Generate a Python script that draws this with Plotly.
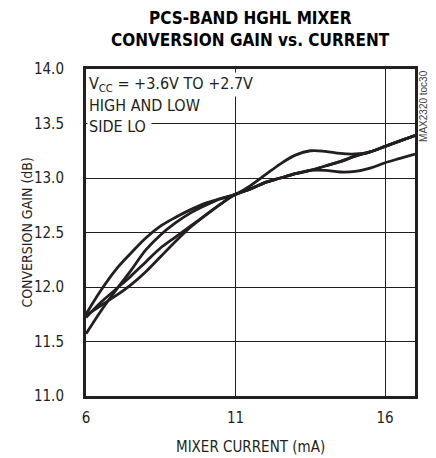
import plotly.graph_objects as go

# mixer current (mA)
current = [6, 6.5, 7, 7.5, 8, 8.5, 9, 9.5, 10, 10.5, 11, 11.5, 12, 12.5,
           13, 13.5, 14, 14.5, 15, 15.5, 16, 16.5, 17]

# conversion gain (dB), four supply / LO-side combinations
gain_a = [11.75, 11.97, 12.16, 12.31, 12.45, 12.56, 12.64, 12.71, 12.77, 12.81, 12.85,
          12.90, 12.96, 13.00, 13.04, 13.07, 13.11, 13.15, 13.20, 13.24, 13.29, 13.34, 13.39]
gain_b = [11.57, 11.78, 11.97, 12.15, 12.34, 12.48, 12.59, 12.68, 12.75, 12.81, 12.85,
          12.93, 13.03, 13.13, 13.21, 13.25, 13.245, 13.225, 13.22, 13.24, 13.29, 13.34, 13.39]
gain_c = [11.72, 11.86, 11.98, 12.10, 12.23, 12.36, 12.46, 12.56, 12.66, 12.76, 12.85,
          12.90, 12.96, 13.00, 13.04, 13.07, 13.11, 13.15, 13.20, 13.24, 13.29, 13.34, 13.39]
gain_d = [11.74, 11.83, 11.92, 12.02, 12.14, 12.28, 12.42, 12.55, 12.66, 12.76, 12.85,
          12.90, 12.96, 13.00, 13.04, 13.07, 13.07, 13.055, 13.06, 13.09, 13.14, 13.18, 13.22]

x_ticks = [6, 11, 16]
y_ticks = [11.0, 11.5, 12.0, 12.5, 13.0, 13.5, 14.0]

INK    = "#231f20"
NARROW = "DejaVu Sans Condensed, Liberation Sans Narrow, sans-serif"

fig = go.Figure()
for g in (gain_a, gain_b, gain_c, gain_d):
    fig.add_trace(go.Scatter(
        x=current, y=g, mode="lines", showlegend=False,
        line=dict(color=INK, width=2.8, shape="spline", smoothing=1.0),
    ))

axis_common = dict(
    showline=True, linecolor=INK, linewidth=3, mirror=True,
    showgrid=True, gridcolor=INK, gridwidth=1, automargin=False,
    zeroline=False, ticks="", tickfont=dict(family=NARROW, size=15, color=INK),
)
fig.update_xaxes(**axis_common, range=[6, 17], tickvals=x_ticks,
                 ticktext=[str(v) for v in x_ticks], ticklabelstandoff=6)
fig.update_yaxes(**axis_common, range=[11, 14], tickvals=y_ticks,
                 ticktext=[f"{v:.1f}" for v in y_ticks], ticklabelstandoff=16)

# axis titles placed by hand
fig.add_annotation(xref="paper", yref="paper", x=0.5, y=-0.156,
                   xanchor="center", yanchor="middle", showarrow=False,
                   text="MIXER CURRENT (mA)",
                   font=dict(family=NARROW, size=15, color=INK))
fig.add_annotation(xref="paper", yref="paper", x=-0.182, y=0.5,
                   xanchor="center", yanchor="middle", showarrow=False,
                   text="CONVERSION GAIN (dB)", textangle=-90,
                   font=dict(family=NARROW, size=14, color=INK))

# note, one box per line so the grid shows between them
note = ["V<sub>CC</sub> = +3.6V TO +2.7V", "HIGH AND LOW", "SIDE LO "]
for i, line in enumerate(note):
    fig.add_annotation(
        xref="paper", yref="paper", x=0.002, y=0.99 - i * 0.066,
        xanchor="left", yanchor="top", text=line, showarrow=False,
        font=dict(family=NARROW, size=16, color=INK),
        bgcolor="white", borderpad=1,
    )

# two-line bold title
for txt, yy in (("PCS-BAND HGHL MIXER", 1.156), ("CONVERSION GAIN vs. CURRENT", 1.089)):
    fig.add_annotation(
        xref="paper", yref="paper", x=0.5, y=yy, xanchor="center", yanchor="middle",
        text=f"<b>{txt}</b>", showarrow=False,
        font=dict(family=NARROW, size=17, color="black"),
    )

fig.add_annotation(
    xref="paper", yref="paper", x=1.024, y=1.003, xanchor="center", yanchor="top",
    text="MAX2320 toc30", textangle=-90, showarrow=False,
    font=dict(family="Liberation Sans Narrow, Liberation Sans, sans-serif", size=10, color="#444"),
)

fig.update_layout(
    width=428, height=450,
    margin=dict(l=78, r=21, t=61, b=62),
    paper_bgcolor="white", plot_bgcolor="white",
)

fig.write_html("out.html")
